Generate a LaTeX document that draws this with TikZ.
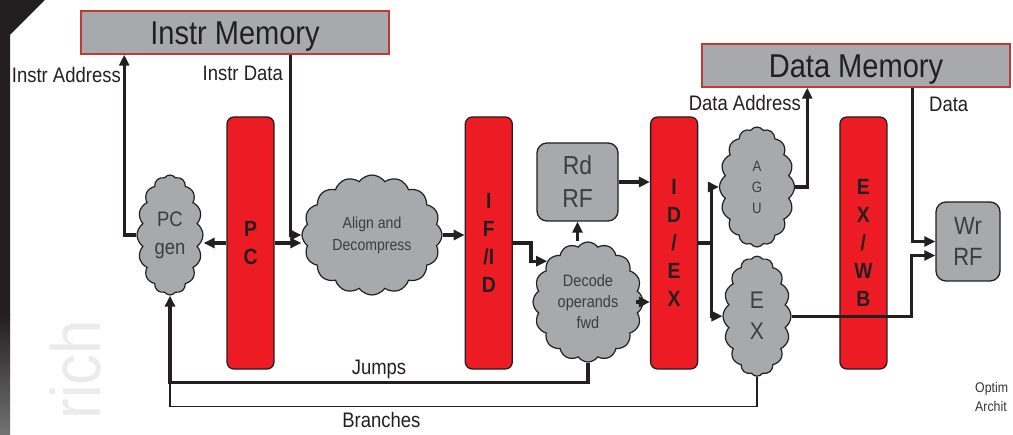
\documentclass[tikz,border=0pt]{standalone}
\usepackage{fontspec}
\setmainfont{Liberation Sans}[FakeStretch=0.88]
\usetikzlibrary{shapes.symbols, arrows.meta, positioning}
\definecolor{regred}{RGB}{237,28,36}
\definecolor{boxgray}{RGB}{167,169,172}
\definecolor{memred}{RGB}{192,57,52}
\definecolor{txtdark}{RGB}{35,31,32}
\definecolor{blobtxt}{RGB}{62,60,62}
\tikzstyle{reg} = [rectangle, rounded corners=7bp, draw=txtdark, line width=1.3bp, fill=regred, minimum width=47bp, minimum height=252bp, align=center, text=txtdark, font=\fontsize{22bp}{28bp}\selectfont\bfseries]
\tikzstyle{blob} = [cloud, cloud puffs=16, cloud puff arc=110, cloud ignores aspect, draw=txtdark, line width=1.2bp, fill=boxgray, inner sep=0pt, align=center, text=blobtxt]
\tikzstyle{rf} = [rectangle, rounded corners=10bp, draw=txtdark, line width=1.3bp, fill=boxgray, align=center, text=blobtxt]
\tikzstyle{mem} = [rectangle, draw=memred, line width=1.5bp, fill=boxgray, minimum width=308bp, minimum height=43bp, inner sep=0pt, text=txtdark, font=\fontsize{33bp}{33bp}\selectfont, text height=23.6bp, text depth=0bp]
\tikzstyle{arrow} = [line width=3.1bp, -{Triangle[length=11bp,width=10bp]}, txtdark]
\tikzstyle{lbl} = [inner sep=0pt, text=txtdark, font=\fontsize{21bp}{25bp}\selectfont]

\begin{document}
\begin{tikzpicture}[x=1bp, y=-1bp]
\useasboundingbox (0,0) rectangle (1013,435);

% slide frame
\fill[txtdark] (0,0) -- (45,0) -- (10,35) -- (10,316) -- (0,316) -- cycle;
\shade[top color=txtdark, bottom color=black!55] (0,315) rectangle (10,435);
\node (wmark) [rotate=90, anchor=base east, inner sep=0pt, text=black!8, font=\fontsize{70bp}{70bp}\selectfont] at (100,320) {rich};
\node (optim) [anchor=base west, inner sep=0pt, text=black!80, font=\fontsize{14bp}{17bp}\selectfont] at (975,393) {Optim};
\node (archit) [anchor=base west, inner sep=0pt, text=black!80, font=\fontsize{14bp}{17bp}\selectfont] at (975,411) {Archit};

% memories
\node (imem) [mem] at (235,32.5) {Instr Memory};
\node (dmem) [mem] at (856,65.5) {Data Memory};

% pipeline registers
\node (pc) [reg] at (250.5,243) {P\\C};
\node (ifid) [reg, right=190bp of pc] {I\\F\\/I\\D};
\node (idex) [reg, right=137bp of ifid] {I\\D\\/\\E\\X};
\node (exwb) [reg, right=141bp of idex] {E\\X\\/\\W\\B};

% logic
\node (pcgen) [blob, minimum width=66bp, minimum height=120bp, font=\fontsize{21bp}{28bp}\selectfont] at (170,235) {PC\\gen};
\node (align) [blob, minimum width=140bp, minimum height=120bp, font=\fontsize{16bp}{22bp}\selectfont] at (372,235) {Align and\\Decompress};
\node (decode) [blob, minimum width=110bp, minimum height=120bp, font=\fontsize{16.5bp}{21bp}\selectfont] at (588,302) {Decode\\operands\\fwd};
\node (rdrf) [rf, minimum width=81bp, minimum height=78bp, font=\fontsize{26bp}{33bp}\selectfont] at (577.5,182) {Rd\\RF};
\node (agu) [blob, minimum width=75bp, minimum height=120bp, font=\fontsize{15bp}{21bp}\selectfont] at (757,187) {A\\G\\U};
\node (exu) [blob, minimum width=68bp, minimum height=120bp, font=\fontsize{24bp}{31bp}\selectfont, below=8bp of agu] {E\\X};
\node (wrrf) [rf, minimum width=64bp, minimum height=79bp, font=\fontsize{25bp}{31bp}\selectfont] at (968,241.5) {Wr\\RF};

% fetch
\draw [arrow] (pcgen.west) -| ([xshift=44bp]imem.south west);
\draw [arrow] ([xshift=210bp]imem.south west) |- (align.west);
\draw [arrow] (pc.west) -- (pc.west -| pcgen.east);
\draw [arrow] (pc.east) -- (pc.east -| align.west);
\draw [arrow] (align.east) -- (align.east -| ifid.west);
% decode
\draw [arrow] (ifid.east) -- ++(18,0) |- (decode.135);
\draw [arrow] (rdrf.south |- decode.north) -- (rdrf.south);
\draw [arrow] (rdrf.east) -- (rdrf.east -| idex.west);
\draw [arrow] ([xshift=-8bp]decode.east) -- (decode.east -| idex.west);
% execute
\draw [line width=3.1bp, txtdark] (idex.east) -- ++(13,0) coordinate (fork);
\draw [arrow] (fork) |- (agu.west);
\draw [arrow] (fork) |- (exu.west);
\draw [arrow] (agu.east) -| ([xshift=106bp]dmem.south west);
\draw [arrow] ([xshift=211bp]dmem.south west) |- (wrrf.west);
\draw [arrow] (exu.east) -| ([xshift=-24bp,yshift=-14bp]wrrf.west) -- ([yshift=-14bp]wrrf.west);
% jumps and branches
\draw [arrow] (decode.south) -- ++(0,20) coordinate (jmp) -| node[pos=0.25, above, lbl, inner sep=2bp] {Jumps} (pcgen.south);
\draw [line width=1.4bp, txtdark] (exu.south) -- ++(0,30) -| node[pos=0.32, below, lbl, inner sep=5bp] {Branches} (pcgen.south |- jmp);

% labels
\node (ialbl) [lbl, anchor=base east] at (121,83) {Instr Address};
\node (idlbl) [lbl, anchor=base east] at (283,81) {Instr Data};
\node (dalbl) [lbl, anchor=base east] at (801,111) {Data Address};
\node (dlbl) [lbl, anchor=base west] at (929,112) {Data};
\end{tikzpicture}
\end{document}
